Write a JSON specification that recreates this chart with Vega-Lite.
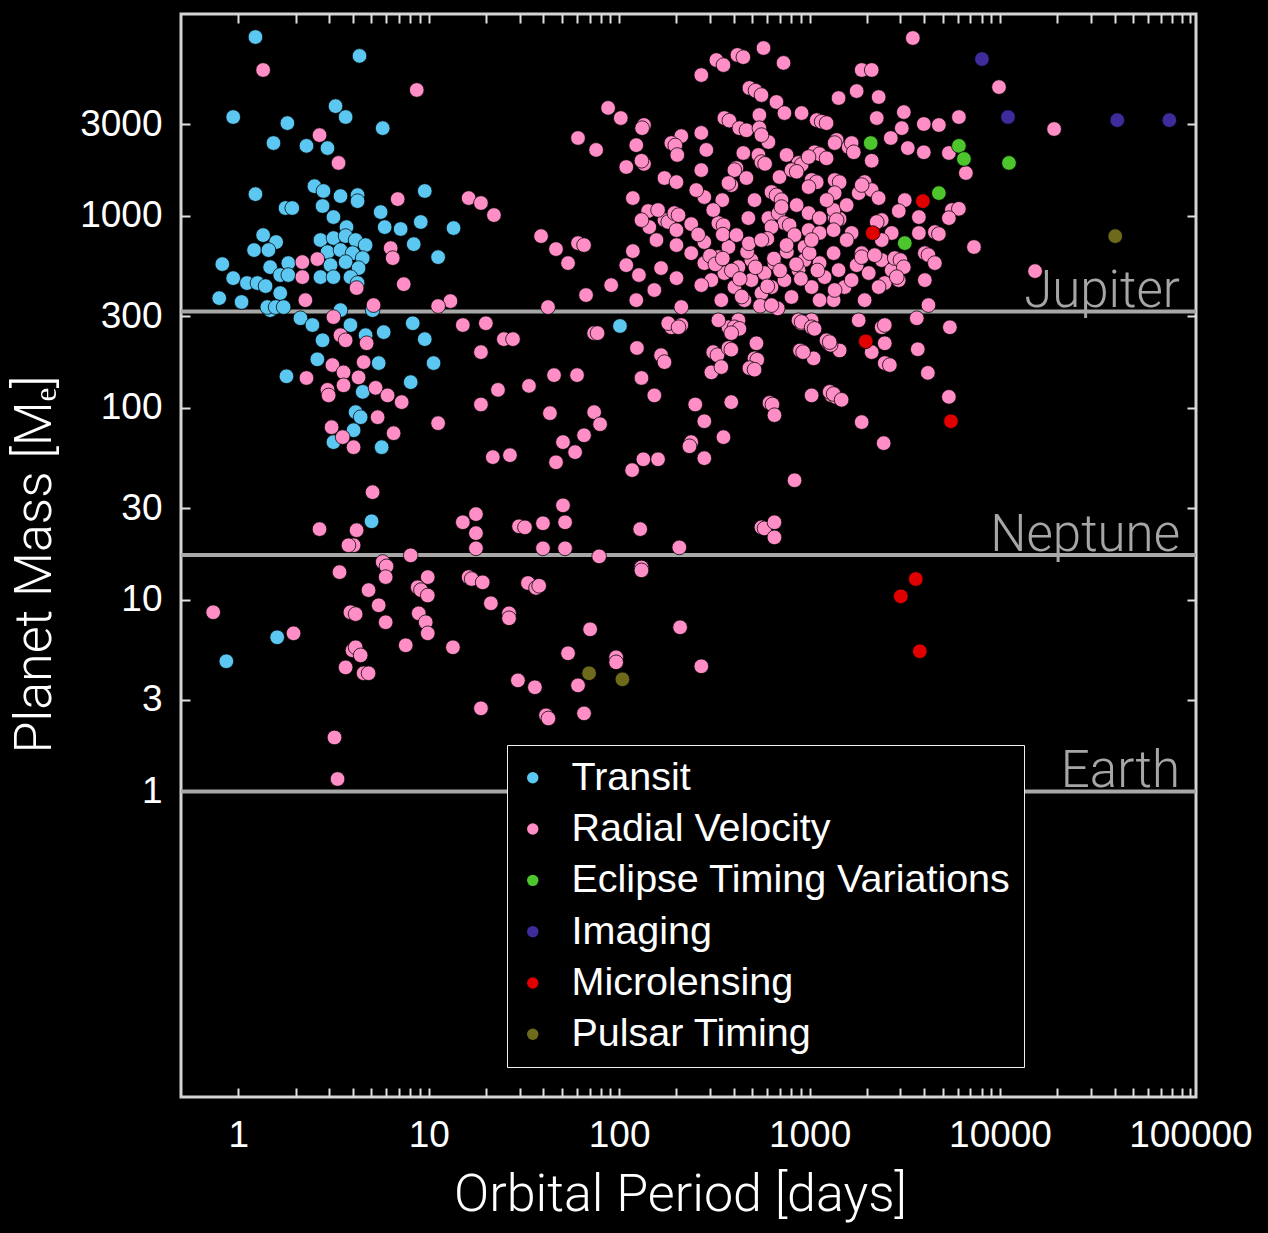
{
  "$schema": "https://vega.github.io/schema/vega-lite/v6.json",
  "width": 1015,
  "height": 1083,
  "autosize": "none",
  "padding": {"left": 181, "top": 14, "right": 72, "bottom": 136},
  "background": "#000000",
  "config": {
    "view": {"stroke": "#d4d4d4", "strokeWidth": 3, "fill": "#000000"},
    "axis": {"domain": false, "grid": false, "tickColor": "#e0e0e0", "tickWidth": 2, "tickSize": -9, "labelColor": "#ffffff", "titleColor": "#ffffff", "labelFont": "Liberation Sans", "labelFontSize": 37, "labelOverlap": false, "labelBound": false, "labelFlush": false}
  },
  "datasets": {
    "planets": [
      {"period":1.23,"mass":8570,"method":"Transit"},{"period":4.33,"mass":6830,"method":"Transit"},{"period":0.94,"mass":3280,"method":"Transit"},{"period":1.81,"mass":3050,"method":"Transit"},{"period":3.24,"mass":3740,"method":"Transit"},{"period":3.66,"mass":3280,"method":"Transit"},{"period":5.73,"mass":2870,"method":"Transit"},{"period":1.53,"mass":2400,"method":"Transit"},{"period":2.28,"mass":2320,"method":"Transit"},{"period":2.94,"mass":2260,"method":"Transit"},{"period":1.23,"mass":1300,"method":"Transit"},{"period":2.51,"mass":1430,"method":"Transit"},{"period":2.8,"mass":1350,"method":"Transit"},{"period":3.44,"mass":1270,"method":"Transit"},{"period":4.23,"mass":1285,"method":"Transit"},{"period":4.23,"mass":1195,"method":"Transit"},{"period":1.77,"mass":1100,"method":"Transit"},{"period":1.92,"mass":1100,"method":"Transit"},{"period":9.53,"mass":1350,"method":"Transit"},{"period":2.77,"mass":1127,"method":"Transit"},{"period":3.16,"mass":987,"method":"Transit"},{"period":5.59,"mass":1048,"method":"Transit"},{"period":3.7,"mass":875,"method":"Transit"},{"period":5.87,"mass":875,"method":"Transit"},{"period":7.12,"mass":855,"method":"Transit"},{"period":9.08,"mass":930,"method":"Transit"},{"period":13.5,"mass":865,"method":"Transit"},{"period":8.34,"mass":713,"method":"Transit"},{"period":11.2,"mass":610,"method":"Transit"},{"period":1.35,"mass":795,"method":"Transit"},{"period":1.58,"mass":731,"method":"Transit"},{"period":1.21,"mass":664,"method":"Transit"},{"period":1.44,"mass":664,"method":"Transit"},{"period":0.824,"mass":561,"method":"Transit"},
      {"period":2.7,"mass":749,"method":"Transit"},{"period":3.16,"mass":767,"method":"Transit"},{"period":3.66,"mass":786,"method":"Transit"},{"period":4.13,"mass":749,"method":"Transit"},{"period":4.66,"mass":705,"method":"Transit"},{"period":2.94,"mass":648,"method":"Transit"},{"period":3.44,"mass":664,"method":"Transit"},{"period":3.98,"mass":640,"method":"Transit"},{"period":4.5,"mass":603,"method":"Transit"},{"period":3.05,"mass":554,"method":"Transit"},{"period":3.66,"mass":575,"method":"Transit"},{"period":4.28,"mass":535,"method":"Transit"},
      {"period":1.47,"mass":541,"method":"Transit"},{"period":1.83,"mass":568,"method":"Transit"},{"period":0.94,"mass":474,"method":"Transit"},{"period":1.11,"mass":447,"method":"Transit"},{"period":1.26,"mass":447,"method":"Transit"},{"period":1.39,"mass":431,"method":"Transit"},{"period":1.66,"mass":396,"method":"Transit"},{"period":1.66,"mass":492,"method":"Transit"},{"period":1.83,"mass":492,"method":"Transit"},{"period":0.794,"mass":373,"method":"Transit"},{"period":1.04,"mass":356,"method":"Transit"},{"period":2.7,"mass":480,"method":"Transit"},{"period":3.16,"mass":480,"method":"Transit"},{"period":3.88,"mass":480,"method":"Transit"},{"period":4.23,"mass":447,"method":"Transit"},{"period":1.47,"mass":323,"method":"Transit"},{"period":1.42,"mass":335,"method":"Transit"},{"period":1.57,"mass":335,"method":"Transit"},{"period":1.73,"mass":335,"method":"Transit"},
      {"period":8.24,"mass":276,"method":"Transit"},{"period":5.8,"mass":248,"method":"Transit"},{"period":9.53,"mass":228,"method":"Transit"},{"period":10.6,"mass":171,"method":"Transit"},{"period":8.04,"mass":136,"method":"Transit"},{"period":2.6,"mass":179,"method":"Transit"},{"period":5.46,"mass":171,"method":"Transit"},{"period":1.79,"mass":146,"method":"Transit"},{"period":4.5,"mass":121,"method":"Transit"},{"period":4.13,"mass":94.9,"method":"Transit"},{"period":4.39,"mass":89.3,"method":"Transit"},{"period":4.03,"mass":76.4,"method":"Transit"},{"period":3.16,"mass":66.2,"method":"Transit"},{"period":5.66,"mass":62.3,"method":"Transit"},{"period":5.01,"mass":25.6,"method":"Transit"},{"period":1.6,"mass":6.36,"method":"Transit"},{"period":0.865,"mass":4.77,"method":"Transit"},{"period":101,"mass":267,"method":"Transit"},
      {"period":2.12,"mass":293,"method":"Transit"},{"period":2.45,"mass":270,"method":"Transit"},{"period":2.77,"mass":225,"method":"Transit"},{"period":3.88,"mass":270,"method":"Transit"},{"period":4.66,"mass":239,"method":"Transit"},{"period":3.44,"mass":323,"method":"Transit"},{"period":5.07,"mass":323,"method":"Transit"},

      {"period":1.35,"mass":5770,"method":"Radial Velocity"},{"period":8.65,"mass":4540,"method":"Radial Velocity"},{"period":2.67,"mass":2640,"method":"Radial Velocity"},{"period":3.36,"mass":1890,"method":"Radial Velocity"},{"period":6.87,"mass":1225,"method":"Radial Velocity"},{"period":16.2,"mass":1240,"method":"Radial Velocity"},{"period":18.8,"mass":1168,"method":"Radial Velocity"},{"period":22,"mass":1011,"method":"Radial Velocity"},{"period":6.31,"mass":680,"method":"Radial Velocity"},{"period":6.47,"mass":603,"method":"Radial Velocity"},{"period":2.17,"mass":575,"method":"Radial Velocity"},{"period":2.6,"mass":596,"method":"Radial Velocity"},{"period":2.17,"mass":480,"method":"Radial Velocity"},{"period":4.18,"mass":421,"method":"Radial Velocity"},{"period":2.25,"mass":364,"method":"Radial Velocity"},{"period":5.13,"mass":343,"method":"Radial Velocity"},{"period":7.39,"mass":441,"method":"Radial Velocity"},{"period":13,"mass":360,"method":"Radial Velocity"},{"period":11.2,"mass":339,"method":"Radial Velocity"},{"period":19.95,"mass":276,"method":"Radial Velocity"},{"period":15.1,"mass":270,"method":"Radial Velocity"},
      {"period":3.16,"mass":297,"method":"Radial Velocity"},{"period":3.44,"mass":239,"method":"Radial Velocity"},{"period":3.66,"mass":225,"method":"Radial Velocity"},{"period":4.72,"mass":217,"method":"Radial Velocity"},{"period":24.8,"mass":228,"method":"Radial Velocity"},{"period":27.7,"mass":228,"method":"Radial Velocity"},{"period":18.8,"mass":195,"method":"Radial Velocity"},{"period":23.1,"mass":124,"method":"Radial Velocity"},{"period":18.8,"mass":104,"method":"Radial Velocity"},{"period":11.2,"mass":83.1,"method":"Radial Velocity"},{"period":21.7,"mass":55.3,"method":"Radial Velocity"},{"period":26.7,"mass":56.6,"method":"Radial Velocity"},{"period":3.12,"mass":167,"method":"Radial Velocity"},{"period":4.55,"mass":173,"method":"Radial Velocity"},{"period":4.28,"mass":144,"method":"Radial Velocity"},{"period":3.57,"mass":153,"method":"Radial Velocity"},{"period":3.57,"mass":131,"method":"Radial Velocity"},{"period":2.28,"mass":143,"method":"Radial Velocity"},{"period":2.94,"mass":124,"method":"Radial Velocity"},{"period":2.98,"mass":116,"method":"Radial Velocity"},{"period":5.26,"mass":127,"method":"Radial Velocity"},{"period":6.08,"mass":116,"method":"Radial Velocity"},{"period":7.21,"mass":107,"method":"Radial Velocity"},{"period":5.39,"mass":89.3,"method":"Radial Velocity"},{"period":3.09,"mass":79.2,"method":"Radial Velocity"},{"period":3.53,"mass":70.3,"method":"Radial Velocity"},{"period":4.03,"mass":62.3,"method":"Radial Velocity"},{"period":6.54,"mass":73.7,"method":"Radial Velocity"},{"period":5.07,"mass":36.3,"method":"Radial Velocity"},{"period":2.67,"mass":23.3,"method":"Radial Velocity"},{"period":4.18,"mass":23,"method":"Radial Velocity"},{"period":4.03,"mass":19.2,"method":"Radial Velocity"},{"period":3.79,"mass":19.2,"method":"Radial Velocity"},{"period":15.1,"mass":25.3,"method":"Radial Velocity"},{"period":17.7,"mass":27.9,"method":"Radial Velocity"},{"period":17.7,"mass":22.2,"method":"Radial Velocity"},{"period":17.7,"mass":18.5,"method":"Radial Velocity"},{"period":8.04,"mass":17,"method":"Radial Velocity"},{"period":29.8,"mass":24.1,"method":"Radial Velocity"},{"period":3.4,"mass":13.9,"method":"Radial Velocity"},{"period":5.73,"mass":15.7,"method":"Radial Velocity"},{"period":6,"mass":14.9,"method":"Radial Velocity"},{"period":5.94,"mass":13.1,"method":"Radial Velocity"},{"period":4.83,"mass":11.2,"method":"Radial Velocity"},{"period":9.88,"mass":13.1,"method":"Radial Velocity"},{"period":8.75,"mass":11.6,"method":"Radial Velocity"},{"period":9.1,"mass":11.2,"method":"Radial Velocity"},{"period":9.88,"mass":10.5,"method":"Radial Velocity"},{"period":5.46,"mass":9.34,"method":"Radial Velocity"},{"period":3.88,"mass":8.59,"method":"Radial Velocity"},{"period":4.13,"mass":8.4,"method":"Radial Velocity"},{"period":5.94,"mass":7.62,"method":"Radial Velocity"},{"period":8.86,"mass":8.48,"method":"Radial Velocity"},{"period":9.64,"mass":7.62,"method":"Radial Velocity"},{"period":9.88,"mass":6.67,"method":"Radial Velocity"},{"period":16.2,"mass":13.1,"method":"Radial Velocity"},{"period":16.8,"mass":12.8,"method":"Radial Velocity"},{"period":19.2,"mass":12.3,"method":"Radial Velocity"},{"period":21.2,"mass":9.57,"method":"Radial Velocity"},{"period":26.4,"mass":8.48,"method":"Radial Velocity"},{"period":26.4,"mass":7.99,"method":"Radial Velocity"},{"period":0.738,"mass":8.59,"method":"Radial Velocity"},{"period":1.95,"mass":6.67,"method":"Radial Velocity"},{"period":7.57,"mass":5.78,"method":"Radial Velocity"},{"period":13.4,"mass":5.64,"method":"Radial Velocity"},{"period":3.98,"mass":5.44,"method":"Radial Velocity"},{"period":4.13,"mass":5.64,"method":"Radial Velocity"},{"period":4.39,"mass":5.12,"method":"Radial Velocity"},{"period":3.66,"mass":4.43,"method":"Radial Velocity"},{"period":4.55,"mass":4.13,"method":"Radial Velocity"},{"period":4.83,"mass":4.13,"method":"Radial Velocity"},{"period":3.2,"mass":1.91,"method":"Radial Velocity"},{"period":3.32,"mass":1.16,"method":"Radial Velocity"},{"period":70.4,"mass":7,"method":"Radial Velocity"},{"period":53.9,"mass":5.25,"method":"Radial Velocity"},{"period":96.4,"mass":5,"method":"Radial Velocity"},{"period":96.4,"mass":4.71,"method":"Radial Velocity"},{"period":29.4,"mass":3.79,"method":"Radial Velocity"},{"period":36.1,"mass":3.49,"method":"Radial Velocity"},{"period":60.8,"mass":3.57,"method":"Radial Velocity"},{"period":18.8,"mass":2.71,"method":"Radial Velocity"},{"period":41.3,"mass":2.49,"method":"Radial Velocity"},{"period":42.5,"mass":2.4,"method":"Radial Velocity"},{"period":65.4,"mass":2.55,"method":"Radial Velocity"},{"period":209,"mass":7.17,"method":"Radial Velocity"},{"period":270,"mass":4.49,"method":"Radial Velocity"},
      {"period":42.3,"mass":335,"method":"Radial Velocity"},{"period":73.9,"mass":245,"method":"Radial Velocity"},{"period":77,"mass":245,"method":"Radial Velocity"},{"period":124,"mass":205,"method":"Radial Velocity"},{"period":166,"mass":188,"method":"Radial Velocity"},{"period":173,"mass":173,"method":"Radial Velocity"},{"period":188,"mass":263,"method":"Radial Velocity"},{"period":212,"mass":270,"method":"Radial Velocity"},{"period":45.5,"mass":148,"method":"Radial Velocity"},{"period":60.1,"mass":148,"method":"Radial Velocity"},{"period":33.6,"mass":130,"method":"Radial Velocity"},{"period":131,"mass":143,"method":"Radial Velocity"},{"period":153,"mass":116,"method":"Radial Velocity"},{"period":43.3,"mass":93.7,"method":"Radial Velocity"},{"period":73.9,"mass":94.9,"method":"Radial Velocity"},{"period":79.4,"mass":82.1,"method":"Radial Velocity"},{"period":65.4,"mass":71.9,"method":"Radial Velocity"},{"period":50.7,"mass":66.2,"method":"Radial Velocity"},{"period":58.7,"mass":58.7,"method":"Radial Velocity"},{"period":46.6,"mass":52,"method":"Radial Velocity"},{"period":251,"mass":104,"method":"Radial Velocity"},{"period":280,"mass":85.1,"method":"Radial Velocity"},{"period":388,"mass":107,"method":"Radial Velocity"},{"period":353,"mass":70.3,"method":"Radial Velocity"},{"period":239,"mass":66.2,"method":"Radial Velocity"},{"period":234,"mass":63,"method":"Radial Velocity"},{"period":280,"mass":54.6,"method":"Radial Velocity"},{"period":134,"mass":53.9,"method":"Radial Velocity"},{"period":160,"mass":53.9,"method":"Radial Velocity"},{"period":117,"mass":47.3,"method":"Radial Velocity"},{"period":834,"mass":41.9,"method":"Radial Velocity"},{"period":559,"mass":23.8,"method":"Radial Velocity"},{"period":580,"mass":23.5,"method":"Radial Velocity"},{"period":654,"mass":25.3,"method":"Radial Velocity"},{"period":654,"mass":21.1,"method":"Radial Velocity"},{"period":50.7,"mass":31,"method":"Radial Velocity"},{"period":52,"mass":25.3,"method":"Radial Velocity"},{"period":39.8,"mass":25,"method":"Radial Velocity"},{"period":32,"mass":23.8,"method":"Radial Velocity"},{"period":129,"mass":23.3,"method":"Radial Velocity"},{"period":39.8,"mass":18.5,"method":"Radial Velocity"},{"period":52,"mass":18.5,"method":"Radial Velocity"},{"period":207,"mass":18.7,"method":"Radial Velocity"},{"period":78.5,"mass":16.8,"method":"Radial Velocity"},{"period":131,"mass":14.7,"method":"Radial Velocity"},{"period":131,"mass":14.2,"method":"Radial Velocity"},{"period":33.2,"mass":12.2,"method":"Radial Velocity"},{"period":36.6,"mass":11.5,"method":"Radial Velocity"},{"period":38,"mass":11.8,"method":"Radial Velocity"},
      {"period":573,"mass":7510,"method":"Radial Velocity"},{"period":730,"mass":6280,"method":"Radial Velocity"},{"period":270,"mass":5430,"method":"Radial Velocity"},{"period":324,"mass":6500,"method":"Radial Velocity"},{"period":353,"mass":6120,"method":"Radial Velocity"},{"period":418,"mass":6910,"method":"Radial Velocity"},{"period":449,"mass":6730,"method":"Radial Velocity"},{"period":87.5,"mass":3660,"method":"Radial Velocity"},{"period":1420,"mass":4120,"method":"Radial Velocity"},{"period":483,"mass":4650,"method":"Radial Velocity"},{"period":520,"mass":4500,"method":"Radial Velocity"},{"period":559,"mass":4270,"method":"Radial Velocity"},{"period":670,"mass":3930,"method":"Radial Velocity"},{"period":738,"mass":3440,"method":"Radial Velocity"},{"period":60.8,"mass":2550,"method":"Radial Velocity"},{"period":75.7,"mass":2210,"method":"Radial Velocity"},{"period":135,"mass":2980,"method":"Radial Velocity"},{"period":132,"mass":2870,"method":"Radial Velocity"},{"period":123,"mass":2340,"method":"Radial Velocity"},{"period":109,"mass":1800,"method":"Radial Velocity"},{"period":135,"mass":1870,"method":"Radial Velocity"},{"period":212,"mass":2610,"method":"Radial Velocity"},{"period":188,"mass":2400,"method":"Radial Velocity"},{"period":197,"mass":2330,"method":"Radial Velocity"},{"period":202,"mass":2080,"method":"Radial Velocity"},{"period":270,"mass":2710,"method":"Radial Velocity"},{"period":287,"mass":2210,"method":"Radial Velocity"},{"period":357,"mass":3240,"method":"Radial Velocity"},{"period":379,"mass":3140,"method":"Radial Velocity"},{"period":428,"mass":2870,"method":"Radial Velocity"},{"period":466,"mass":2800,"method":"Radial Velocity"},{"period":545,"mass":3360,"method":"Radial Velocity"},{"period":545,"mass":2870,"method":"Radial Velocity"},{"period":608,"mass":2430,"method":"Radial Velocity"},{"period":908,"mass":3440,"method":"Radial Velocity"},{"period":1090,"mass":3160,"method":"Radial Velocity"},{"period":1157,"mass":3100,"method":"Radial Velocity"},{"period":1228,"mass":3050,"method":"Radial Velocity"},{"period":449,"mass":2130,"method":"Radial Velocity"},{"period":539,"mass":2080,"method":"Radial Velocity"},{"period":559,"mass":1910,"method":"Radial Velocity"},{"period":584,"mass":1870,"method":"Radial Velocity"},{"period":757,"mass":2080,"method":"Radial Velocity"},{"period":875,"mass":1890,"method":"Radial Velocity"},{"period":908,"mass":1850,"method":"Radial Velocity"},{"period":1062,"mass":2150,"method":"Radial Velocity"},{"period":1129,"mass":2100,"method":"Radial Velocity"},{"period":1228,"mass":2000,"method":"Radial Velocity"},{"period":1387,"mass":2490,"method":"Radial Velocity"},{"period":1604,"mass":2290,"method":"Radial Velocity"},{"period":173,"mass":1577,"method":"Radial Velocity"},{"period":200,"mass":1502,"method":"Radial Velocity"},{"period":413,"mass":1778,"method":"Radial Velocity"},{"period":466,"mass":1577,"method":"Radial Velocity"},{"period":388,"mass":1449,"method":"Radial Velocity"},{"period":695,"mass":1596,"method":"Radial Velocity"},{"period":804,"mass":1735,"method":"Radial Velocity"},{"period":855,"mass":1700,"method":"Radial Velocity"},{"period":1025,"mass":1540,"method":"Radial Velocity"},{"period":1090,"mass":1500,"method":"Radial Velocity"},{"period":1354,"mass":1540,"method":"Radial Velocity"},{"period":1438,"mass":1500,"method":"Radial Velocity"},{"period":118,"mass":1240,"method":"Radial Velocity"},{"period":280,"mass":1255,"method":"Radial Velocity"},{"period":348,"mass":1210,"method":"Radial Velocity"},{"period":514,"mass":1210,"method":"Radial Velocity"},{"period":631,"mass":1333,"method":"Radial Velocity"},{"period":670,"mass":1280,"method":"Radial Velocity"},{"period":712,"mass":1210,"method":"Radial Velocity"},{"period":142,"mass":1061,"method":"Radial Velocity"},{"period":144,"mass":875,"method":"Radial Velocity"},{"period":173,"mass":952,"method":"Radial Velocity"},{"period":181,"mass":930,"method":"Radial Velocity"},{"period":195,"mass":1035,"method":"Radial Velocity"},{"period":205,"mass":1010,"method":"Radial Velocity"},{"period":200,"mass":844,"method":"Radial Velocity"},{"period":239,"mass":907,"method":"Radial Velocity"},{"period":332,"mass":918,"method":"Radial Velocity"},{"period":353,"mass":895,"method":"Radial Velocity"},{"period":477,"mass":975,"method":"Radial Velocity"},{"period":608,"mass":975,"method":"Radial Velocity"},{"period":687,"mass":1035,"method":"Radial Velocity"},{"period":738,"mass":918,"method":"Radial Velocity"},{"period":785,"mass":895,"method":"Radial Velocity"},{"period":988,"mass":1035,"method":"Radial Velocity"},{"period":1129,"mass":975,"method":"Radial Velocity"},{"period":1354,"mass":987,"method":"Radial Velocity"},{"period":1438,"mass":965,"method":"Radial Velocity"},{"period":38.9,"mass":785,"method":"Radial Velocity"},{"period":46.6,"mass":672,"method":"Radial Velocity"},{"period":53.9,"mass":568,"method":"Radial Velocity"},{"period":60.8,"mass":722,"method":"Radial Velocity"},{"period":65.4,"mass":705,"method":"Radial Velocity"},{"period":118,"mass":656,"method":"Radial Velocity"},{"period":200,"mass":705,"method":"Radial Velocity"},{"period":280,"mass":731,"method":"Radial Velocity"},{"period":166,"mass":535,"method":"Radial Velocity"},{"period":200,"mass":474,"method":"Radial Velocity"},{"period":127,"mass":492,"method":"Radial Velocity"},{"period":67,"mass":387,"method":"Radial Velocity"},{"period":123,"mass":364,"method":"Radial Velocity"},{"period":153,"mass":411,"method":"Radial Velocity"},{"period":212,"mass":335,"method":"Radial Velocity"},
      {"period":403,"mass":1735,"method":"Radial Velocity"},{"period":375,"mass":1485,"method":"Radial Velocity"},{"period":988,"mass":2030,"method":"Radial Velocity"},{"period":1663,"mass":2400,"method":"Radial Velocity"},{"period":1706,"mass":2150,"method":"Radial Velocity"},{"period":988,"mass":1415,"method":"Radial Velocity"},{"period":1354,"mass":1316,"method":"Radial Velocity"},{"period":1946,"mass":1502,"method":"Radial Velocity"},{"period":1811,"mass":1316,"method":"Radial Velocity"},{"period":2120,"mass":1365,"method":"Radial Velocity"},{"period":2306,"mass":1240,"method":"Radial Velocity"},{"period":712,"mass":1113,"method":"Radial Velocity"},{"period":1337,"mass":1074,"method":"Radial Velocity"},{"period":1387,"mass":952,"method":"Radial Velocity"},{"period":1663,"mass":815,"method":"Radial Velocity"},{"period":2393,"mass":952,"method":"Radial Velocity"},{"period":2700,"mass":815,"method":"Radial Velocity"},{"period":160,"mass":1074,"method":"Radial Velocity"},{"period":631,"mass":875,"method":"Radial Velocity"},{"period":834,"mass":795,"method":"Radial Velocity"},{"period":988,"mass":844,"method":"Radial Velocity"},{"period":1129,"mass":815,"method":"Radial Velocity"},{"period":1337,"mass":844,"method":"Radial Velocity"},{"period":239,"mass":640,"method":"Radial Velocity"},{"period":280,"mass":568,"method":"Radial Velocity"},{"period":332,"mass":610,"method":"Radial Velocity"},{"period":375,"mass":689,"method":"Radial Velocity"},{"period":305,"mass":463,"method":"Radial Velocity"},{"period":357,"mass":504,"method":"Radial Velocity"},{"period":423,"mass":541,"method":"Radial Velocity"},{"period":495,"mass":589,"method":"Radial Velocity"},{"period":403,"mass":426,"method":"Radial Velocity"},{"period":495,"mass":463,"method":"Radial Velocity"},{"period":580,"mass":504,"method":"Radial Velocity"},{"period":654,"mass":568,"method":"Radial Velocity"},{"period":455,"mass":364,"method":"Radial Velocity"},{"period":559,"mass":396,"method":"Radial Velocity"},{"period":631,"mass":426,"method":"Radial Velocity"},{"period":738,"mass":463,"method":"Radial Velocity"},{"period":804,"mass":378,"method":"Radial Velocity"},{"period":941,"mass":689,"method":"Radial Velocity"},{"period":941,"mass":589,"method":"Radial Velocity"},{"period":1129,"mass":568,"method":"Radial Velocity"},{"period":1199,"mass":480,"method":"Radial Velocity"},{"period":1337,"mass":640,"method":"Radial Velocity"},{"period":1420,"mass":522,"method":"Radial Velocity"},{"period":1528,"mass":426,"method":"Radial Velocity"},{"period":1337,"mass":364,"method":"Radial Velocity"},{"period":1663,"mass":463,"method":"Radial Velocity"},{"period":1878,"mass":640,"method":"Radial Velocity"},{"period":2045,"mass":504,"method":"Radial Velocity"},{"period":2393,"mass":589,"method":"Radial Velocity"},{"period":2482,"mass":447,"method":"Radial Velocity"},{"period":1946,"mass":364,"method":"Radial Velocity"},{"period":2700,"mass":522,"method":"Radial Velocity"},{"period":2940,"mass":463,"method":"Radial Velocity"},{"period":875,"mass":522,"method":"Radial Velocity"},{"period":1025,"mass":426,"method":"Radial Velocity"},{"period":1129,"mass":364,"method":"Radial Velocity"},{"period":181,"mass":276,"method":"Radial Velocity"},{"period":205,"mass":263,"method":"Radial Velocity"},{"period":375,"mass":263,"method":"Radial Velocity"},{"period":423,"mass":286,"method":"Radial Velocity"},{"period":908,"mass":276,"method":"Radial Velocity"},{"period":1025,"mass":286,"method":"Radial Velocity"},{"period":1811,"mass":286,"method":"Radial Velocity"},{"period":2393,"mass":263,"method":"Radial Velocity"},
      {"period":300,"mass":620,"method":"Radial Velocity"},{"period":320,"mass":560,"method":"Radial Velocity"},{"period":350,"mass":600,"method":"Radial Velocity"},{"period":390,"mass":520,"method":"Radial Velocity"},{"period":430,"mass":470,"method":"Radial Velocity"},{"period":470,"mass":650,"method":"Radial Velocity"},{"period":520,"mass":540,"method":"Radial Velocity"},{"period":600,"mass":430,"method":"Radial Velocity"},{"period":650,"mass":600,"method":"Radial Velocity"},{"period":700,"mass":520,"method":"Radial Velocity"},{"period":760,"mass":650,"method":"Radial Velocity"},{"period":850,"mass":560,"method":"Radial Velocity"},{"period":900,"mass":470,"method":"Radial Velocity"},{"period":1000,"mass":640,"method":"Radial Velocity"},{"period":1100,"mass":520,"method":"Radial Velocity"},{"period":440,"mass":380,"method":"Radial Velocity"},{"period":550,"mass":340,"method":"Radial Velocity"},{"period":680,"mass":330,"method":"Radial Velocity"},{"period":480,"mass":720,"method":"Radial Velocity"},{"period":600,"mass":760,"method":"Radial Velocity"},{"period":260,"mass":800,"method":"Radial Velocity"},{"period":350,"mass":800,"method":"Radial Velocity"},
      {"period":254,"mass":1365,"method":"Radial Velocity"},{"period":312,"mass":1074,"method":"Radial Velocity"},{"period":413,"mass":795,"method":"Radial Velocity"},{"period":559,"mass":749,"method":"Radial Velocity"},{"period":757,"mass":705,"method":"Radial Velocity"},{"period":855,"mass":1140,"method":"Radial Velocity"},{"period":1566,"mass":1140,"method":"Radial Velocity"},{"period":1767,"mass":554,"method":"Radial Velocity"},{"period":270,"mass":436,"method":"Radial Velocity"},{"period":344,"mass":364,"method":"Radial Velocity"},{"period":631,"mass":343,"method":"Radial Velocity"},{"period":1025,"mass":749,"method":"Radial Velocity"},{"period":1228,"mass":1210,"method":"Radial Velocity"},{"period":270,"mass":1735,"method":"Radial Velocity"},{"period":559,"mass":2640,"method":"Radial Velocity"},{"period":2120,"mass":1940,"method":"Radial Velocity"},{"period":2393,"mass":749,"method":"Radial Velocity"},{"period":1566,"mass":749,"method":"Radial Velocity"},{"period":157,"mass":749,"method":"Radial Velocity"},{"period":131,"mass":952,"method":"Radial Velocity"},{"period":109,"mass":554,"method":"Radial Velocity"},{"period":90.8,"mass":436,"method":"Radial Velocity"},{"period":131,"mass":1940,"method":"Radial Velocity"},{"period":102,"mass":3240,"method":"Radial Velocity"},
      {"period":3485,"mass":8470,"method":"Radial Velocity"},{"period":9880,"mass":4700,"method":"Radial Velocity"},{"period":19240,"mass":2840,"method":"Radial Velocity"},{"period":6620,"mass":1675,"method":"Radial Velocity"},{"period":7300,"mass":689,"method":"Radial Velocity"},{"period":15280,"mass":516,"method":"Radial Velocity"},{"period":1878,"mass":5770,"method":"Radial Velocity"},{"period":2120,"mass":5770,"method":"Radial Velocity"},{"period":1767,"mass":4480,"method":"Radial Velocity"},{"period":2306,"mass":4170,"method":"Radial Velocity"},{"period":2253,"mass":3240,"method":"Radial Velocity"},{"period":3125,"mass":3480,"method":"Radial Velocity"},{"period":3050,"mass":2870,"method":"Radial Velocity"},{"period":3980,"mass":3016,"method":"Radial Velocity"},{"period":4775,"mass":2980,"method":"Radial Velocity"},{"period":6085,"mass":3280,"method":"Radial Velocity"},{"period":2670,"mass":2550,"method":"Radial Velocity"},{"period":3280,"mass":2260,"method":"Radial Velocity"},{"period":3980,"mass":2150,"method":"Radial Velocity"},{"period":5390,"mass":2130,"method":"Radial Velocity"},{"period":1354,"mass":2400,"method":"Radial Velocity"},{"period":1878,"mass":1449,"method":"Radial Velocity"},{"period":3162,"mass":1210,"method":"Radial Velocity"},{"period":2940,"mass":1061,"method":"Radial Velocity"},{"period":3750,"mass":987,"method":"Radial Velocity"},{"period":5590,"mass":1074,"method":"Radial Velocity"},{"period":6080,"mass":1090,"method":"Radial Velocity"},{"period":5390,"mass":975,"method":"Radial Velocity"},{"period":3750,"mass":815,"method":"Radial Velocity"},{"period":4550,"mass":824,"method":"Radial Velocity"},{"period":4775,"mass":805,"method":"Radial Velocity"},{"period":2253,"mass":930,"method":"Radial Velocity"},{"period":1878,"mass":610,"method":"Radial Velocity"},{"period":2198,"mass":625,"method":"Radial Velocity"},{"period":2800,"mass":603,"method":"Radial Velocity"},{"period":3000,"mass":589,"method":"Radial Velocity"},{"period":3125,"mass":541,"method":"Radial Velocity"},{"period":4030,"mass":640,"method":"Radial Velocity"},{"period":4210,"mass":625,"method":"Radial Velocity"},{"period":4550,"mass":568,"method":"Radial Velocity"},{"period":4030,"mass":463,"method":"Radial Velocity"},{"period":2306,"mass":426,"method":"Radial Velocity"},{"period":2870,"mass":480,"method":"Radial Velocity"},{"period":1354,"mass":411,"method":"Radial Velocity"},{"period":4210,"mass":343,"method":"Radial Velocity"},{"period":2482,"mass":270,"method":"Radial Velocity"},{"period":3656,"mass":293,"method":"Radial Velocity"},{"period":5456,"mass":263,"method":"Radial Velocity"},
      {"period":2482,"mass":217,"method":"Radial Velocity"},{"period":2120,"mass":195,"method":"Radial Velocity"},{"period":2482,"mass":171,"method":"Radial Velocity"},{"period":2640,"mass":167,"method":"Radial Velocity"},{"period":3700,"mass":202,"method":"Radial Velocity"},{"period":4180,"mass":152,"method":"Radial Velocity"},{"period":5390,"mass":114,"method":"Radial Velocity"},{"period":1878,"mass":84.2,"method":"Radial Velocity"},{"period":2450,"mass":65.4,"method":"Radial Velocity"},{"period":1305,"mass":116,"method":"Radial Velocity"},{"period":1370,"mass":114,"method":"Radial Velocity"},{"period":1438,"mass":199,"method":"Radial Velocity"},{"period":1259,"mass":217,"method":"Radial Velocity"},{"period":1290,"mass":213,"method":"Radial Velocity"},{"period":1050,"mass":181,"method":"Radial Velocity"},
      {"period":332,"mass":286,"method":"Radial Velocity"},{"period":403,"mass":263,"method":"Radial Velocity"},{"period":428,"mass":258,"method":"Radial Velocity"},{"period":388,"mass":245,"method":"Radial Velocity"},{"period":312,"mass":195,"method":"Radial Velocity"},{"period":328,"mass":188,"method":"Radial Velocity"},{"period":305,"mass":153,"method":"Radial Velocity"},{"period":344,"mass":163,"method":"Radial Velocity"},{"period":375,"mass":205,"method":"Radial Velocity"},{"period":388,"mass":201,"method":"Radial Velocity"},{"period":526,"mass":217,"method":"Radial Velocity"},{"period":514,"mass":181,"method":"Radial Velocity"},{"period":531,"mass":178,"method":"Radial Velocity"},{"period":483,"mass":161,"method":"Radial Velocity"},{"period":514,"mass":158,"method":"Radial Velocity"},{"period":875,"mass":286,"method":"Radial Velocity"},{"period":908,"mass":280,"method":"Radial Velocity"},{"period":1025,"mass":263,"method":"Radial Velocity"},{"period":1062,"mass":258,"method":"Radial Velocity"},{"period":891,"mass":199,"method":"Radial Velocity"},{"period":925,"mass":195,"method":"Radial Velocity"},{"period":1228,"mass":225,"method":"Radial Velocity"},{"period":1275,"mass":220,"method":"Radial Velocity"},{"period":1025,"mass":116,"method":"Radial Velocity"},{"period":1275,"mass":121,"method":"Radial Velocity"},{"period":1337,"mass":118,"method":"Radial Velocity"},{"period":1473,"mass":110,"method":"Radial Velocity"},{"period":616,"mass":106,"method":"Radial Velocity"},{"period":638,"mass":104,"method":"Radial Velocity"},{"period":654,"mass":91.5,"method":"Radial Velocity"},

      {"period":2094,"mass":2400,"method":"Eclipse Timing Variations"},{"period":6085,"mass":2320,"method":"Eclipse Timing Variations"},{"period":6465,"mass":1983,"method":"Eclipse Timing Variations"},{"period":11150,"mass":1890,"method":"Eclipse Timing Variations"},{"period":4775,"mass":1316,"method":"Eclipse Timing Variations"},{"period":3162,"mass":722,"method":"Eclipse Timing Variations"},
      {"period":8040,"mass":6580,"method":"Imaging"},{"period":11020,"mass":3280,"method":"Imaging"},{"period":41300,"mass":3160,"method":"Imaging"},{"period":77500,"mass":3160,"method":"Imaging"},
      {"period":2147,"mass":815,"method":"Microlensing"},{"period":3935,"mass":1195,"method":"Microlensing"},{"period":1972,"mass":222,"method":"Microlensing"},{"period":5525,"mass":85.1,"method":"Microlensing"},{"period":3612,"mass":12.8,"method":"Microlensing"},{"period":3013,"mass":10.4,"method":"Microlensing"},{"period":3793,"mass":5.38,"method":"Microlensing"},
      {"period":69.5,"mass":4.13,"method":"Pulsar Timing"},{"period":104,"mass":3.84,"method":"Pulsar Timing"},{"period":40300,"mass":785,"method":"Pulsar Timing"}
    ],
    "refs": [
      {"name": "Jupiter", "mass": 318},
      {"name": "Neptune", "mass": 17.1},
      {"name": "Earth", "mass": 1}
    ]
  },
  "layer": [
    {
      "data": {"name": "refs"},
      "mark": {"type": "rule", "color": "#a8a8a8", "strokeWidth": 4},
      "encoding": {
        "y": {"field": "mass", "type": "quantitative", "scale": {"type": "log", "domain": [0.0255, 11300], "nice": false}, "axis": null}
      }
    },
    {
      "data": {"name": "planets"},
      "mark": {"type": "point", "filled": true, "size": 215, "stroke": "#000000", "strokeWidth": 0.9, "strokeOpacity": 0.85, "opacity": 1},
      "encoding": {
        "x": {"field": "period", "type": "quantitative", "scale": {"type": "log", "domain": [0.5, 107000], "nice": false},
          "axis": {"orient": "bottom", "values": [1,2,3,4,5,6,7,8,9,10,20,30,40,50,60,70,80,90,100,200,300,400,500,600,700,800,900,1000,2000,3000,4000,5000,6000,7000,8000,9000,10000,20000,30000,40000,50000,60000,70000,80000,90000,100000],
            "format": "d", "labelExpr": "(datum.value == 1 || datum.value == 10 || datum.value == 100 || datum.value == 1000 || datum.value == 10000 || datum.value == 100000) ? datum.label : ''",
            "labelPadding": 29, "title": "Orbital Period [days]", "titleFont": "Roboto", "titleFontWeight": 300, "titleFontSize": 52, "titlePadding": 16, "titleX": 499, "titleAlign": "center"}},
        "y": {"field": "mass", "type": "quantitative", "scale": {"type": "log", "domain": [0.0255, 11300], "nice": false},
          "axis": {"orient": "left", "values": [1,3,10,30,100,300,1000,3000], "format": "d", "labelPadding": 28, "title": "Planet Mass [Mₑ]", "titleFont": "Roboto", "titleFontWeight": 300, "titleFontSize": 52, "titlePadding": 18, "titleY": 550, "titleAlign": "center"}},
        "color": {"field": "method", "type": "nominal",
          "scale": {"domain": ["Transit", "Radial Velocity", "Eclipse Timing Variations", "Imaging", "Microlensing", "Pulsar Timing"],
                    "range": ["#5cc8f2", "#ff8ec6", "#4cc62c", "#3f2b9c", "#e00000", "#6e6a1c"]},
          "legend": {"orient": "none", "legendX": 326, "legendY": 731, "title": null, "fillColor": "#000000", "strokeColor": "#f0f0f0",
            "padding": 13, "symbolType": "circle", "symbolSize": 130, "symbolStrokeWidth": 0, "symbolOpacity": 1, "symbolOffset": -7,
            "labelFont": "Liberation Sans", "labelFontSize": 39.5, "labelColor": "#ffffff", "labelOffset": 19, "rowPadding": 10.3, "labelLimit": 600}}
      }
    },
    {
      "data": {"name": "refs"},
      "mark": {"type": "text", "align": "right", "baseline": "alphabetic", "dx": -16, "dy": -4, "font": "Roboto", "fontWeight": 300, "fontSize": 51, "color": "#a6a6a6"},
      "encoding": {
        "x": {"value": "width"},
        "y": {"field": "mass", "type": "quantitative", "scale": {"type": "log", "domain": [0.0255, 11300], "nice": false}, "axis": null},
        "text": {"field": "name"}
      }
    },
    {
      "data": {"name": "planets"},
      "mark": {"type": "point", "opacity": 0},
      "encoding": {
        "x": {"field": "period", "type": "quantitative", "scale": {"type": "log", "domain": [0.5, 107000], "nice": false},
          "axis": {"orient": "top", "values": [1,2,3,4,5,6,7,8,9,10,20,30,40,50,60,70,80,90,100,200,300,400,500,600,700,800,900,1000,2000,3000,4000,5000,6000,7000,8000,9000,10000,20000,30000,40000,50000,60000,70000,80000,90000,100000], "labels": false, "title": null}},
        "y": {"field": "mass", "type": "quantitative", "scale": {"type": "log", "domain": [0.0255, 11300], "nice": false},
          "axis": {"orient": "right", "values": [1,3,10,30,100,300,1000,3000], "labels": false, "title": null}}
      }
    }
  ],
  "resolve": {"axis": {"x": "independent", "y": "independent"}}
}
